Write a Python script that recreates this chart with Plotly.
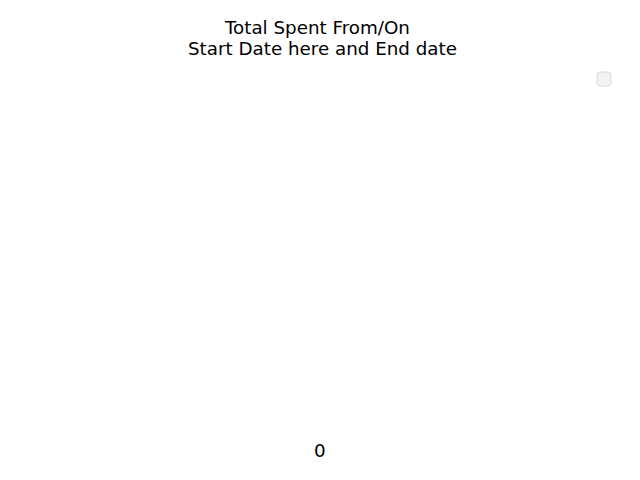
import plotly.graph_objects as go

# Data (the reference chart has no spending entries)
categories = []
amounts = []
title_lines = ["Total Spent From/On", "Start Date here and End date"]
total_label = str(int(sum(amounts)))

fig = go.Figure()
fig.add_trace(go.Pie(labels=categories, values=amounts, showlegend=True, sort=False))

font = dict(family="DejaVu Sans", size=18.3, color="black")

W, H = 640, 480
OFF = 8  # page offset of the figure


def px(x):
    return (x - OFF) / W


def py(y):
    return 1 - (y - OFF) / H


fig.update_layout(
    width=W, height=H,
    margin=dict(l=0, r=0, t=0, b=0),
    paper_bgcolor="white", plot_bgcolor="white",
    showlegend=False,
    xaxis=dict(visible=False),
    yaxis=dict(visible=False),
)

fig.add_annotation(text=title_lines[0], xref="paper", yref="paper", x=px(316.5), y=py(28),
                   showarrow=False, font=font, xanchor="center", yanchor="middle")
fig.add_annotation(text=title_lines[1], xref="paper", yref="paper", x=px(322), y=py(48),
                   showarrow=False, font=font, xanchor="center", yanchor="middle")
fig.add_annotation(text=total_label, xref="paper", yref="paper", x=px(320), y=py(450),
                   showarrow=False, font=font, xanchor="center", yanchor="middle")

# Empty legend frame (rounded box), in paper coordinates
x0, x1 = px(597), px(611)
y0, y1 = py(86), py(72)
rx, ry = 3 / W, 3 / H
path = (f"M {x0+rx},{y0} L {x1-rx},{y0} Q {x1},{y0} {x1},{y0+ry} "
        f"L {x1},{y1-ry} Q {x1},{y1} {x1-rx},{y1} L {x0+rx},{y1} Q {x0},{y1} {x0},{y1-ry} "
        f"L {x0},{y0+ry} Q {x0},{y0} {x0+rx},{y0} Z")
fig.add_shape(type="path", path=path, xref="paper", yref="paper",
              fillcolor="rgba(240,240,240,0.8)", line=dict(color="#d9d9d9", width=1))

fig.write_html("out.html")
